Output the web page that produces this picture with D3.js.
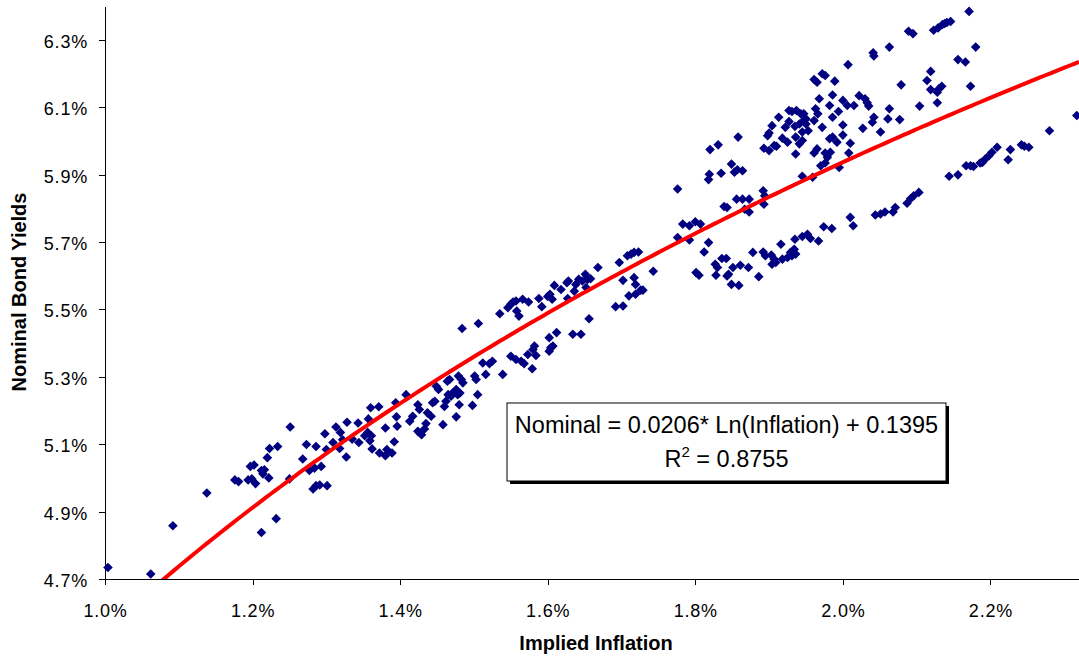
<!DOCTYPE html>
<html lang="en">
<head>
<meta charset="UTF-8">
<title>Nominal Bond Yields vs Implied Inflation</title>
<style>
body { margin: 0; background: #fff; }
svg { display: block; font-family: "Liberation Sans", Arial, sans-serif; }
.axis path, .axis line { stroke: #000; shape-rendering: crispEdges; }
.axis text { font-size: 18px; fill: #000; letter-spacing: 0.8px; }
.title { font-size: 20px; font-weight: bold; fill: #000; }
.dot { fill: #000080; }
.trend { fill: none; stroke: #ff0000; stroke-width: 4; }
.eq { font-size: 23.5px; fill: #000; }
</style>
</head>
<body>
<svg width="1079" height="656"></svg>
<script src="https://d3js.org/d3.v7.min.js"></script>
<script>
// implied inflation (%)
const inflation = [
  1.004,1.062,1.092,1.138,1.251,1.176,1.181,1.197,1.202,1.194,
  1.199,1.204,1.212,1.216,1.214,1.222,1.220,1.223,1.234,1.232,
  1.212,1.250,1.268,1.273,1.277,1.284,1.286,1.282,1.286,1.291,
  1.293,1.301,1.298,1.300,1.309,1.313,1.319,1.322,1.318,1.327,
  1.328,1.335,1.343,1.344,
  1.352,1.356,1.361,1.359,1.357,1.360,1.371,1.362,1.372,1.380,
  1.382,1.389,1.392,1.380,1.395,1.394,1.396,1.408,1.413,1.417,
  1.424,1.426,1.424,1.429,1.433,1.435,1.437,1.442,1.444,1.447,
  1.449,1.452,1.458,1.460,1.462,1.464,1.467,1.465,1.469,1.471,
  1.476,1.478,1.481,1.476,1.480,1.479,1.483,1.485,1.484,1.498,
  1.501,1.503,1.505,1.506,
  1.535,1.546,1.550,1.553,1.557,1.561,1.558,1.566,1.574,1.588,
  1.592,1.600,1.603,1.606,1.609,1.618,1.627,1.626,1.628,1.636,
  1.638,1.642,1.647,1.651,1.654,1.658,1.652,1.668,1.697,1.708,
  1.713,1.717,1.723,1.702,1.717,1.719,1.743,1.692,1.702,1.710,
  1.719,1.726,1.729,1.656,1.634,1.645,1.602,1.612,1.604,1.602,
  1.607,1.582,1.580,1.584,1.579,1.550,1.557,1.564,1.568,1.573,
  1.512,1.521,1.525,1.516,1.539,
  1.849,1.853,1.857,1.864,1.835,1.819,1.818,1.776,1.970,1.976,
  1.995,1.945,1.959,1.892,1.894,1.893,1.856,1.864,1.873,1.839,
  1.843,1.867,1.873,1.783,1.792,1.800,1.807,1.776,1.792,1.818,
  1.812,2.010,2.014,1.974,1.985,1.945,1.952,1.956,1.967,1.935,
  1.916,1.878,1.892,1.895,1.903,1.907,1.904,1.909,1.918,1.925,
  1.929,1.934,1.936,1.931,1.836,1.842,1.827,1.830,1.851,1.861,
  1.872,1.801,1.805,1.828,1.845,1.843,1.886,1.849,1.859,
  2.007,1.972,1.976,1.961,1.965,1.989,1.968,1.986,2.000,2.006,
  2.015,1.982,1.994,1.986,1.963,1.966,1.961,1.927,1.931,1.937,
  1.943,1.947,1.950,1.913,1.927,1.941,1.947,1.950,1.922,1.935,
  1.904,1.900,1.898,1.953,1.945,1.972,2.000,2.000,1.982,1.986,
  1.992,2.010,1.858,1.918,1.925,1.936,1.945,1.941,1.893,1.900,
  1.907,1.910,1.936,1.961,1.965,1.976,1.983,1.979,2.008,1.820,
  1.831,
  2.171,2.141,2.146,2.138,2.135,2.123,2.129,2.089,2.095,2.063,
  2.041,2.042,2.180,2.156,2.166,2.119,2.114,2.079,2.119,2.128,
  2.134,2.130,2.173,2.128,2.104,2.022,2.030,2.033,2.035,2.063,
  2.042,2.040,2.061,2.077,2.027,2.051,2.317,2.280,2.209,2.202,
  2.198,2.193,2.189,2.186,2.227,2.224,2.242,2.246,2.252,2.167,
  2.173,2.177,2.144,2.156,2.103,2.096,2.092,2.087,2.071,2.068,
  2.057,2.051,2.044
];

// nominal bond yields (%), same order
const nominal = [
  4.734,4.715,4.858,4.955,5.151,4.994,4.989,5.034,5.038,4.994,
  4.997,4.983,5.022,5.024,5.012,5.000,5.060,5.087,5.093,4.879,
  4.838,4.997,5.056,5.099,5.022,5.029,5.093,4.967,4.977,4.979,
  5.034,4.977,5.131,5.084,5.105,5.151,5.135,5.113,5.087,5.062,
  5.165,5.115,5.163,5.105,
  5.125,5.135,5.125,5.110,5.175,5.208,5.211,5.086,5.074,5.066,
  5.084,5.074,5.107,5.148,5.181,5.223,5.153,5.247,5.168,5.183,
  5.217,5.203,5.138,5.128,5.145,5.161,5.193,5.183,5.223,5.227,
  5.272,5.262,5.158,5.212,5.227,5.287,5.292,5.247,5.242,5.252,
  5.262,5.247,5.252,5.181,5.217,5.302,5.292,5.282,5.443,5.215,
  5.302,5.292,5.247,5.458,
  5.487,5.505,5.515,5.522,5.525,5.480,5.495,5.530,5.522,5.532,
  5.508,5.538,5.545,5.530,5.571,5.559,5.532,5.579,5.584,5.554,
  5.574,5.589,5.584,5.604,5.589,5.591,5.565,5.624,5.639,5.659,
  5.664,5.669,5.670,5.586,5.594,5.574,5.613,5.508,5.510,5.540,
  5.545,5.557,5.557,5.472,5.426,5.426,5.416,5.431,5.386,5.376,
  5.391,5.391,5.381,5.363,5.324,5.361,5.351,5.346,5.339,5.366,
  5.341,5.339,5.346,5.307,5.307,
  5.931,5.907,5.914,5.911,5.904,5.901,5.885,5.857,5.926,5.934,
  5.921,5.895,5.892,5.852,5.837,5.812,5.827,5.827,5.827,5.805,
  5.802,5.797,5.789,5.753,5.748,5.760,5.753,5.713,5.706,5.698,
  5.670,5.773,5.748,5.745,5.740,5.716,5.723,5.710,5.703,5.708,
  5.693,5.669,5.670,5.659,5.661,5.649,5.634,5.639,5.649,5.654,
  5.669,5.678,5.664,5.659,5.651,5.651,5.634,5.624,5.624,5.631,
  5.624,5.609,5.601,5.601,5.604,5.599,5.597,5.574,5.571,
  6.226,6.199,6.194,6.182,6.174,6.177,6.125,6.136,6.120,6.105,
  6.105,6.105,6.087,6.070,6.095,6.080,6.060,6.090,6.087,6.090,
  6.080,6.080,6.065,6.070,6.057,6.050,6.060,6.050,6.040,6.043,
  6.045,6.023,6.015,6.030,6.026,6.040,6.047,6.017,6.006,6.011,
  5.996,5.993,6.011,6.008,5.996,6.011,6.001,5.991,5.978,5.971,
  5.986,5.984,5.961,5.964,5.976,5.964,5.966,5.951,5.964,5.974,
  5.988,
  6.384,6.351,6.354,6.348,6.345,6.328,6.335,6.325,6.318,6.278,
  6.261,6.252,6.278,6.241,6.234,6.206,6.179,6.166,6.152,6.144,
  6.162,6.154,6.162,6.113,6.103,6.134,6.125,6.113,6.103,6.095,
  6.070,6.055,6.065,6.063,6.037,6.026,6.075,6.030,5.981,5.966,
  5.956,5.946,5.936,5.934,5.974,5.944,5.988,5.984,5.981,5.926,
  5.926,5.924,5.895,5.899,5.847,5.837,5.829,5.815,5.802,5.789,
  5.789,5.783,5.780
];

const xTicks = [1.0, 1.2, 1.4, 1.6, 1.8, 2.0, 2.2];
const yTicks = [4.7, 4.9, 5.1, 5.3, 5.5, 5.7, 5.9, 6.1, 6.3];
const xTitle = 'Implied Inflation';
const yTitle = 'Nominal Bond Yields';
const eqLine = 'Nominal = 0.0206* Ln(Inflation) + 0.1395';
const rSquared = '0.8755';
// log trend as it is drawn in the chart (decimal units)
const trendSlope = 0.02006;
const trendIntercept = 0.13784;

var svg = d3.select('svg');

var margin = { top: 6, right: 0, bottom: 77, left: 105 };
var width = +svg.attr('width') - margin.left - margin.right;
var height = +svg.attr('height') - margin.top - margin.bottom;

var x = d3.scaleLinear().domain([1.0, 2.32]).range([0, width]);
var y = d3.scaleLinear().domain([4.7, 6.4]).range([height, 0]);

var g = svg.append('g')
    .attr('transform', 'translate(' + margin.left + ',' + margin.top + ')');

g.append('clipPath').attr('id', 'plot')
  .append('rect')
    .attr('width', width)
    .attr('height', height);

var data = inflation.map((v, i) => ({ x: v, y: nominal[i] }));

var trend = d3.range(0, 201).map(i => {
  var xv = x.domain()[0] + (x.domain()[1] - x.domain()[0]) * i / 200;
  return { x: xv, y: 100 * (trendSlope * Math.log(xv / 100) + trendIntercept) };
});

var yAxis = g.append('g')
    .attr('class', 'axis')
    .call(d3.axisLeft(y).tickValues(yTicks).tickSize(6).tickSizeOuter(0).tickPadding(11)
      .tickFormat(d => d.toFixed(1) + '%'));
yAxis.selectAll('text').attr('dy', '0.42em');

var xAxis = g.append('g')
    .attr('class', 'axis')
    .attr('transform', 'translate(0,' + height + ')')
    .call(d3.axisBottom(x).tickValues(xTicks).tickSize(6).tickSizeOuter(0).tickPadding(19)
      .tickFormat(d => d.toFixed(1) + '%'));

g.append('g')
  .selectAll('path')
  .data(data)
  .join('path')
    .attr('class', 'dot')
    .attr('d', 'M0,-4.8L4.8,0L0,4.8L-4.8,0Z')
    .attr('transform', d => 'translate(' + x(d.x) + ',' + y(d.y) + ')');

g.append('path')
    .datum(trend)
    .attr('class', 'trend')
    .attr('clip-path', 'url(#plot)')
    .attr('d', d3.line().x(d => x(d.x)).y(d => y(d.y)));

// equation label box
var box = g.append('g').attr('transform', 'translate(' + (507 - margin.left) + ',' + (403 - margin.top) + ')');
box.append('rect')
    .attr('x', 3).attr('y', 3).attr('width', 439).attr('height', 78)
    .attr('fill', '#000');
box.append('rect')
    .attr('width', 439).attr('height', 78)
    .attr('fill', '#fff').attr('stroke', '#000').attr('stroke-width', 1);
box.append('text')
    .attr('class', 'eq')
    .attr('x', 219.5).attr('y', 30)
    .attr('text-anchor', 'middle')
    .text(eqLine);
var r2 = box.append('text')
    .attr('class', 'eq')
    .attr('x', 219.5).attr('y', 64)
    .attr('text-anchor', 'middle');
r2.append('tspan').text('R');
r2.append('tspan').attr('font-size', '15px').attr('dy', '-10').text('2');
r2.append('tspan').attr('dy', '10').text(' = ' + rSquared);

svg.append('text')
    .attr('class', 'title')
    .attr('x', 596).attr('y', 650)
    .attr('text-anchor', 'middle')
    .text(xTitle);

svg.append('text')
    .attr('class', 'title')
    .attr('transform', 'translate(26,292) rotate(-90)')
    .attr('text-anchor', 'middle')
    .text(yTitle);
</script>
</body>
</html>
